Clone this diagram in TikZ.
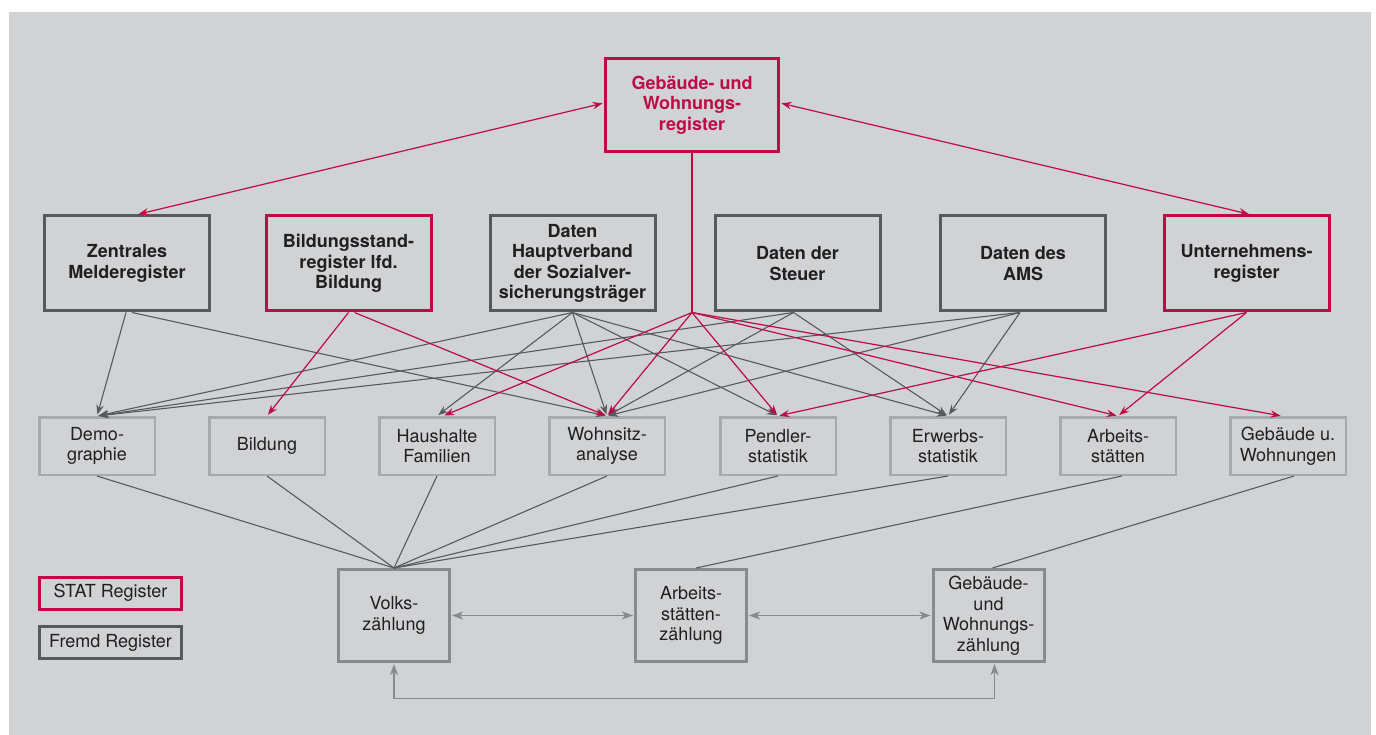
\documentclass[tikz,border=0pt]{standalone}
\usepackage{fontspec}
\setmainfont{TeX Gyre Heros}
\usetikzlibrary{arrows.meta,calc}
\definecolor{bg}{RGB}{209,210,212}
\definecolor{stred}{RGB}{187,12,72}
\definecolor{dkgray}{RGB}{88,89,91}
\definecolor{ltgray}{RGB}{168,169,172}
\definecolor{mdgray}{RGB}{137,138,141}
\definecolor{txt}{RGB}{35,31,32}
\begin{document}
\begin{tikzpicture}[x=1pt,y=-1pt,
  every node/.style={font=\fontsize{18}{20.5}\selectfont, text=txt, align=center, inner sep=0pt},
  reg/.style={draw=dkgray, line width=3pt, minimum width=165pt, minimum height=95pt, font=\fontsize{18}{20.5}\selectfont\bfseries},
  statreg/.style={reg, draw=stred},
  topreg/.style={statreg, text=stred, minimum width=173pt, minimum height=93pt},
  midbox/.style={draw=ltgray, line width=2.5pt, minimum width=115.5pt, minimum height=57.5pt},
  cntbox/.style={draw=mdgray, line width=3pt, minimum width=111pt, minimum height=92pt},
  legbox/.style={line width=3pt, minimum width=142pt, minimum height=32pt},
  garr/.style={draw=dkgray, line width=1.1pt, -{Stealth[length=10pt,width=7.5pt,inset=3.5pt]}, shorten >=1.5pt},
  rarr/.style={draw=stred, line width=1.2pt, -{Stealth[length=10pt,width=7.5pt,inset=3.5pt]}, shorten >=1.5pt},
  rdbl/.style={draw=stred, line width=1.2pt, {Stealth[length=10pt,width=7.5pt,inset=3.5pt]}-{Stealth[length=10pt,width=7.5pt,inset=3.5pt]}, shorten >=1.5pt, shorten <=1.5pt},
  gline/.style={draw=dkgray, line width=1.1pt},
  cdbl/.style={draw=mdgray, line width=1.7pt, {Stealth[length=11pt,width=8pt,inset=3pt]}-{Stealth[length=11pt,width=8pt,inset=3pt]}, shorten >=1pt, shorten <=1pt}
]
\useasboundingbox (0,0) rectangle (1376,735);
\fill[white] (0,0) rectangle (1376,735);
\fill[bg] (9,12) rectangle (1371,735);

% top register
\node[topreg] (gwr) at (692,105) {Gebäude- und\\Wohnungs-\\register};

% row 2
\node[reg] (zmr) at (127,263.5) {Zentrales\\Melderegister};
\node[statreg] (bsr) at (348.5,263.5) {Bildungsstand-\\register lfd.\\Bildung};
\node[reg] (hv) at (572.5,263.5) {Daten\\Hauptverband\\der Sozialver-\\sicherungsträger};
\node[reg] (st) at (797.5,263.5) {Daten der\\Steuer};
\node[reg] (ams) at (1023,263.5) {Daten des\\AMS};
\node[statreg] (ur) at (1246.5,263.5) {Unternehmens-\\register};

% row 3
\node[midbox] (demo) at (97,446) {Demo-\\graphie};
\node[midbox] (bild) at (267,446) {Bildung};
\node[midbox] (haus) at (437,446) {Haushalte\\Familien};
\node[midbox] (wohn) at (607,446) {Wohnsitz-\\analyse};
\node[midbox] (pend) at (778,446) {Pendler-\\statistik};
\node[midbox] (erw) at (948,446) {Erwerbs-\\statistik};
\node[midbox] (arb) at (1118,446) {Arbeits-\\stätten};
\node[midbox] (geb) at (1288,446) {Gebäude u.\\Wohnungen};

% row 4
\node[cntbox] (vz) at (394,615.5) {Volks-\\zählung};
\node[cntbox] (az) at (691,615.5) {Arbeits-\\stätten-\\zählung};
\node[cntbox] (gwz) at (988.5,615.5) {Gebäude-\\und\\Wohnungs-\\zählung};

% legend
\node[legbox, draw=stred] (lstat) at (110.5,593) {STAT Register};
\node[legbox, draw=dkgray] (lfremd) at (110.5,642.5) {Fremd Register};

% top double arrows
\draw[rdbl] ($(gwr.west)+(0,-2)$) -- ($(zmr.north)+(10,0)$);
\draw[rdbl] ($(gwr.east)+(0,-2)$) -- ($(ur.north)+(4,0)$);

% junction below top register
\coordinate (j) at (gwr.south |- zmr.south);
\draw[draw=stred, line width=1.2pt] (gwr.south) -- (j);

% gray arrows row 2 -> row 3
\draw[garr] ($(zmr.south)+(-1,0)$) -- (demo.north);
\draw[garr] ($(zmr.south)+(5,0)$) -- (wohn.north);
\draw[garr] (hv.south) -- (demo.north);
\draw[garr] (hv.south) -- (haus.north);
\draw[garr] (hv.south) -- (wohn.north);
\draw[garr] (hv.south) -- (pend.north);
\draw[garr] (hv.south) -- (erw.north);
\draw[garr] ($(st.south)+(-4,0)$) -- (demo.north);
\draw[garr] ($(st.south)+(-4,0)$) -- (wohn.north);
\draw[garr] ($(st.south)+(-4,0)$) -- (erw.north);
\draw[garr] ($(ams.south)+(-3,0)$) -- (demo.north);
\draw[garr] ($(ams.south)+(-3,0)$) -- (wohn.north);
\draw[garr] ($(ams.south)+(-3,0)$) -- (erw.north);

% red arrows row 2 -> row 3
\draw[rarr] (bsr.south) -- (bild.north);
\draw[rarr] ($(bsr.south)+(6,0)$) -- (wohn.north);
\draw[rarr] (j) -- ($(haus.north)+(6,0)$);
\draw[rarr] (j) -- (wohn.north);
\draw[rarr] (j) -- (pend.north);
\draw[rarr] (j) -- (arb.north);
\draw[rarr] (j) -- ($(geb.north)+(-6,0)$);
\draw[rarr] (ur.south) -- (pend.north);
\draw[rarr] (ur.south) -- (arb.north);

% row 3 -> row 4
\foreach \n in {demo,bild,haus,wohn,pend,erw}
  \draw[gline] (\n.south) -- (vz.north);
\draw[gline] ($(arb.south)+(4,0)$) -- ($(az.north)+(5,0)$);
\draw[gline] ($(geb.south)+(6,0)$) -- ($(gwz.north)+(4,0)$);

% row 4 arrows
\draw[cdbl] (vz.east) -- (az.west);
\draw[cdbl] (az.east) -- (gwz.west);
\draw[cdbl] (vz.south) -- ++(0,35.5) -| ($(gwz.south)+(6,0)$);
\end{tikzpicture}
\end{document}
